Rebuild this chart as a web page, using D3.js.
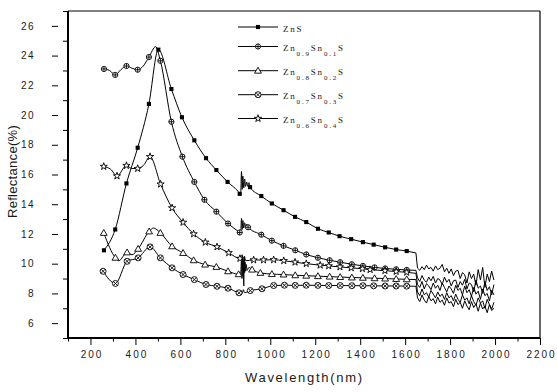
<!DOCTYPE html>
<html>
<head>
<meta charset="utf-8">
<script src="https://cdn.jsdelivr.net/npm/d3@7"></script>
<style>
  body { margin: 0; background: #fff; }
  svg text { font-family: "Liberation Sans", Arial, sans-serif; fill: #1a1a1a; }
</style>
</head>
<body>
<div id="chart"></div>
<script>
// legend names, "_{..}" = subscript
const seriesNames = ["ZnS", "Zn_{0.9}Sn_{0.1}S", "Zn_{0.8}Sn_{0.2}S", "Zn_{0.7}Sn_{0.3}S", "Zn_{0.6}Sn_{0.4}S"];
const seriesSymbols = ["square", "circlePlus", "triangle", "circleX", "star"];

const xTicks = [200, 400, 600, 800, 1000, 1200, 1400, 1600, 1800, 2000, 2200];
const xMinor = [100, 300, 500, 700, 900, 1100, 1300, 1500, 1700, 1900, 2100];
const yTicks = [6, 8, 10, 12, 14, 16, 18, 20, 22, 24, 26];
const yMinor = [5, 7, 9, 11, 13, 15, 17, 19, 21, 23, 25, 27];

// wavelengths of the noisy tail (nm)
const noiseWl = [1655, 1665, 1675, 1685, 1695, 1705, 1715, 1725, 1735, 1745, 1755, 1765,
    1775, 1785, 1795, 1805, 1815, 1825, 1835, 1845, 1855, 1865, 1875, 1885, 1895, 1905,
    1915, 1925, 1935, 1945, 1955, 1965, 1975, 1985, 1995];

// ZnS: points with symbols, extra line points, noisy tail
const znsMarks = [[260,10.9],[310,12.3],[360,15.4],[410,17.8],[460,20.75],[502,24.4],[560,21.75],
    [607,19.85],[662,18.3],[714,17.1],[760,16.3],[810,15.5],[864,14.7],[910,15.15],[960,14.55],
    [1007,14.05],[1059,13.6],[1110,13.15],[1160,12.8],[1212,12.35],[1260,12.1],[1308,11.85],
    [1360,11.65],[1412,11.45],[1460,11.28],[1511,11.1],[1560,10.95],[1607,10.85]];
const znsShape = [[868,14.6],[872,16.2],[875,15.0],[878,15.9],[882,15.1],[886,15.7],[890,15.2],
    [895,15.5],[900,15.2],[905,15.45],[1648,10.72]];
const znsNoise = [9.7, 9.55, 9.8, 9.6, 9.9, 9.65, 9.75, 9.5, 9.85, 9.6, 9.7, 9.95, 9.45, 9.7, 9.35,
    9.65, 9.2, 9.5, 9.55, 9.0, 9.4, 9.25, 8.7, 9.45, 9.0, 9.3, 8.55, 9.6, 8.9, 9.75, 8.4, 9.3, 8.8, 9.5, 8.9];

// Zn0.9Sn0.1S
const s1Marks = [[260,23.1],[310,22.7],[360,23.3],[410,23.05],[460,23.9],[511,23.65],[560,19.55],
    [609,17.2],[662,15.5],[707,14.3],[760,13.5],[812,12.7],[864,12.1],[901,12.45],[960,11.95],
    [1007,11.55],[1059,11.2],[1111,10.9],[1160,10.62],[1212,10.4],[1264,10.23],[1311,10.1],
    [1363,9.96],[1412,9.85],[1464,9.75],[1511,9.68],[1560,9.62],[1607,9.58]];
const s1Shape = [[285,23.0],[335,23.05],[385,23.15],[435,23.3],[490,24.6],[868,12.05],[872,13.05],
    [875,12.3],[878,12.9],[882,12.4],[886,12.75],[890,12.5],[895,12.65],[1648,9.55]];
const s1Noise = [9.05, 8.8, 9.2, 8.9, 8.75, 9.1, 8.85, 9.15, 8.7, 9.0, 8.9, 8.6, 9.1, 8.75, 8.95,
    8.5, 8.85, 8.9, 8.4, 8.8, 8.55, 8.95, 8.3, 8.7, 8.6, 8.1, 8.9, 8.35, 8.5, 8.0, 8.8, 8.2, 8.45, 7.9, 8.6];

// Zn0.8Sn0.2S
const s2Marks = [[259,12.07],[311,10.4],[363,10.76],[412,11.0],[461,12.17],[511,12.07],[563,11.17],
    [612,10.72],[659,10.23],[710,9.94],[760,9.78],[812,9.49],[859,9.29],[919,9.6],[956,9.38],
    [1007,9.3],[1059,9.27],[1111,9.22],[1160,9.19],[1212,9.16],[1264,9.13],[1311,9.1],[1363,9.07],
    [1412,9.05],[1464,9.02],[1511,9.0],[1560,8.97],[1607,8.95]];
const s2Shape = [[326,10.2],[385,10.6],[480,12.4],[868,9.3],[872,10.3],[874,9.0],[876,10.5],[878,9.2],
    [880,10.2],[882,8.5],[884,10.4],[886,9.4],[888,10.1],[890,9.5],[893,9.95],[897,9.55],[905,9.75],[1648,8.93]];
const s2Noise = [8.1, 7.85, 8.3, 7.9, 8.05, 7.75, 8.2, 7.95, 7.7, 8.1, 7.8, 7.95, 7.6, 8.05, 7.7,
    7.85, 7.5, 7.95, 7.6, 7.4, 7.9, 7.55, 7.7, 7.3, 7.85, 7.45, 7.2, 7.7, 7.35, 7.5, 7.0, 7.6, 7.25, 6.95, 7.4];

// Zn0.7Sn0.3S
const s3Marks = [[256,9.49],[311,8.67],[363,10.16],[412,10.39],[465,11.13],[511,10.39],[563,9.72],
    [612,9.27],[662,8.93],[714,8.6],[763,8.48],[812,8.35],[861,8.04],[911,8.19],[963,8.31],[1015,8.53],
    [1063,8.55],[1111,8.54],[1160,8.55],[1212,8.54],[1260,8.53],[1311,8.53],[1363,8.52],[1412,8.52],
    [1460,8.51],[1511,8.5],[1560,8.5],[1607,8.49]];
const s3Shape = [[875,8.0],[880,8.25],[885,8.05],[1648,8.48]];
const s3Noise = [7.7, 7.45, 7.9, 7.55, 7.35, 7.8, 7.5, 7.65, 7.3, 7.75, 7.4, 7.55, 7.2, 7.7, 7.35,
    7.45, 7.1, 7.6, 7.25, 7.4, 7.0, 7.5, 7.15, 6.9, 7.45, 7.05, 7.3, 6.8, 7.35, 6.95, 7.15, 6.7, 7.25, 6.85, 7.0];

// Zn0.6Sn0.4S
const s4Marks = [[259,16.54],[318,15.9],[360,16.6],[410,16.4],[465,17.2],[512,15.35],[563,13.75],
    [612,12.78],[659,12.0],[711,11.44],[763,11.13],[815,10.73],[865,10.35],[926,10.25],[970,10.25],
    [1015,10.26],[1060,10.2],[1110,10.1],[1160,10.0],[1222,9.9],[1260,9.85],[1310,9.78],[1360,9.72],
    [1410,9.66],[1444,9.6],[1510,9.53],[1560,9.47],[1607,9.42]];
const s4Shape = [[290,16.35],[385,16.4],[435,16.6],[875,10.6],[880,10.0],[885,10.5],[890,10.2],[1648,9.35]];
const s4Noise = [8.6, 8.4, 8.8, 8.3, 8.65, 8.5, 8.25, 8.7, 8.35, 8.55, 8.2, 8.7, 8.4, 8.1, 8.5,
    8.3, 8.0, 8.55, 8.2, 8.35, 7.9, 8.5, 8.05, 8.25, 7.8, 8.4, 7.95, 8.15, 7.6, 8.3, 7.85, 8.0, 7.5, 8.2, 7.9];

const allMarks = [znsMarks, s1Marks, s2Marks, s3Marks, s4Marks];
const allShape = [znsShape, s1Shape, s2Shape, s3Shape, s4Shape];
const allNoise = [znsNoise, s1Noise, s2Noise, s3Noise, s4Noise];

const width = 557, height = 392;
const plot = {left: 68, right: 540, top: 11, bottom: 338};

const svg = d3.select("#chart").append("svg")
    .attr("width", width)
    .attr("height", height);

const x = d3.scaleLinear().domain([100, 2200]).range([plot.left, plot.right]);
const y = d3.scaleLinear().domain([5, 27]).range([plot.bottom, plot.top]);

// x axis, major + minor ticks
const gx = svg.append("g")
    .attr("transform", `translate(0,${plot.bottom})`)
    .call(d3.axisBottom(x).tickValues(xTicks).tickFormat(d3.format("d")).tickSize(7).tickPadding(6));
gx.select(".domain").remove();
gx.selectAll("text")
    .attr("font-size", 10)
    .attr("font-family", "Liberation Sans, Arial, sans-serif")
    .attr("dx", "1px")
    .style("letter-spacing", "2px");

const gxm = svg.append("g")
    .attr("transform", `translate(0,${plot.bottom})`)
    .call(d3.axisBottom(x).tickValues(xMinor).tickSize(3.5).tickFormat(""));
gxm.select(".domain").remove();

// y axis
const gy = svg.append("g")
    .attr("transform", `translate(${plot.left},0)`)
    .call(d3.axisLeft(y).tickValues(yTicks).tickSize(16).tickPadding(17));
gy.select(".domain").remove();
gy.selectAll(".tick line").attr("x1", -10);
gy.selectAll("text")
    .attr("font-size", 10)
    .attr("font-family", "Liberation Sans, Arial, sans-serif")
    .style("letter-spacing", "1.5px");

const gym = svg.append("g")
    .attr("transform", `translate(${plot.left},0)`)
    .call(d3.axisLeft(y).tickValues(yMinor).tickSize(5).tickFormat(""));
gym.select(".domain").remove();

svg.selectAll(".tick line").attr("stroke", "#000");

// frame
svg.append("line").attr("x1", plot.left).attr("x2", plot.right).attr("y1", plot.top).attr("y2", plot.top)
    .attr("stroke", "#000").attr("stroke-width", 1);
svg.append("line").attr("x1", plot.right).attr("x2", plot.right).attr("y1", plot.top).attr("y2", plot.bottom)
    .attr("stroke", "#000").attr("stroke-width", 1.2);
svg.append("line").attr("x1", plot.left).attr("x2", plot.left).attr("y1", plot.top).attr("y2", plot.bottom + 1)
    .attr("stroke", "#000").attr("stroke-width", 2);
svg.append("line").attr("x1", plot.left - 1).attr("x2", plot.right).attr("y1", plot.bottom).attr("y2", plot.bottom)
    .attr("stroke", "#000").attr("stroke-width", 2);

// axis titles
svg.append("text")
    .attr("x", 245)
    .attr("y", 382)
    .attr("font-size", 13)
    .style("letter-spacing", "1.7px")
    .text("Wavelength(nm)");

svg.append("text")
    .attr("transform", "translate(16.5,171.5) rotate(-90)")
    .attr("text-anchor", "middle")
    .attr("font-size", 13)
    .style("letter-spacing", "0.3px")
    .text("Reflectance(%)");

// marker shapes
function drawSymbol(g, type) {
    if (type === "square") {
        g.append("path").attr("d", d3.symbol(d3.symbolSquare, 17)()).attr("fill", "#000");
    } else if (type === "triangle") {
        g.append("path").attr("d", d3.symbol(d3.symbolTriangle, 20)())
            .attr("transform", "translate(0,0.5)")
            .attr("fill", "#fff").attr("stroke", "#000").attr("stroke-width", 0.9);
    } else if (type === "star") {
        g.append("path").attr("d", d3.symbol(d3.symbolStar, 16)())
            .attr("fill", "#fff").attr("stroke", "#000").attr("stroke-width", 0.9);
    } else if (type === "circlePlus") {
        g.append("circle").attr("r", 2.6).attr("fill", "#fff").attr("stroke", "#000").attr("stroke-width", 0.9);
        g.append("path").attr("d", "M-2.6,0H2.6M0,-2.6V2.6").attr("stroke", "#000").attr("stroke-width", 0.9);
    } else if (type === "circleX") {
        g.append("circle").attr("r", 3).attr("fill", "#fff").attr("stroke", "#000").attr("stroke-width", 0.9);
        g.append("path").attr("d", "M-2.1,-2.1L2.1,2.1M-2.1,2.1L2.1,-2.1").attr("stroke", "#000").attr("stroke-width", 0.9);
    }
}

const smoothLine = d3.line()
    .x(d => x(d[0]))
    .y(d => y(d[1]))
    .curve(d3.curveMonotoneX);

const noiseLine = d3.line()
    .x(d => x(d[0]))
    .y(d => y(d[1]));

allMarks.forEach((marks, i) => {
    const pts = marks.concat(allShape[i]).sort((a, b) => a[0] - b[0]);
    const tail = [pts[pts.length - 1]].concat(allNoise[i].map((v, j) => [noiseWl[j], v]));

    svg.append("path")
        .datum(pts)
        .attr("fill", "none")
        .attr("stroke", "#000")
        .attr("stroke-width", 1)
        .attr("d", smoothLine);

    svg.append("path")
        .datum(tail)
        .attr("fill", "none")
        .attr("stroke", "#000")
        .attr("stroke-width", 1)
        .attr("d", noiseLine);

    svg.append("g").selectAll("g")
        .data(marks)
        .join("g")
        .attr("transform", d => `translate(${x(d[0])},${y(d[1])})`)
        .each(function () { drawSymbol(d3.select(this), seriesSymbols[i]); });
});

// legend
const legendRows = [27, 46.5, 70.7, 94.7, 118.5];
const legend = svg.append("g");
seriesNames.forEach((name, i) => {
    const row = legend.append("g").attr("transform", `translate(0,${legendRows[i]})`);
    row.append("line").attr("x1", 238).attr("x2", 278).attr("stroke", "#000").attr("stroke-width", 1);
    drawSymbol(row.append("g").attr("transform", "translate(258,0)"), seriesSymbols[i]);

    const t = row.append("text")
        .attr("x", 283)
        .attr("y", 4.5)
        .style("font-family", "Liberation Serif, serif")
        .style("letter-spacing", "1.8px");
    const parts = name.split(/_\{([^}]*)\}/);
    parts.forEach((p, k) => {
        if (!p) return;
        const sub = k % 2 === 1;
        t.append("tspan")
            .attr("font-size", sub ? 7 : 9)
            .attr("dy", sub ? 5 : (k > 0 ? -5 : 0))
            .text(p);
    });
});
</script>
</body>
</html>
